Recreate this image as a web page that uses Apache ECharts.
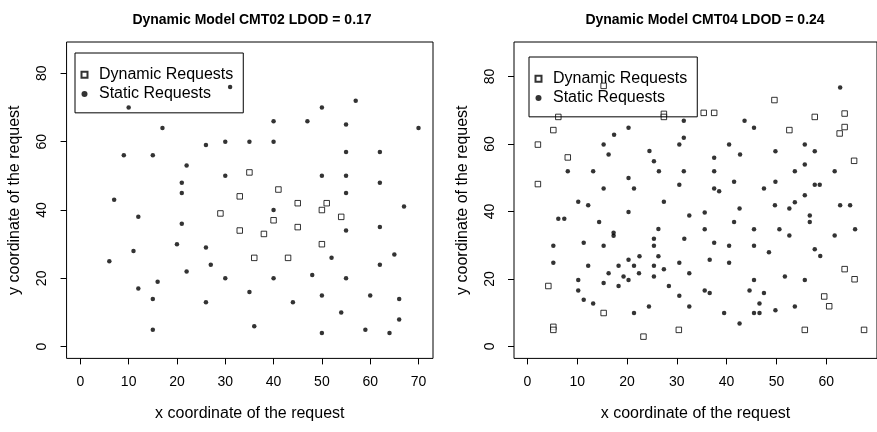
<!DOCTYPE html>
<title>dynamic requests</title>
<style>
body {
    margin: 0;
}
#echart {
    height: 432px;
    width: 877px;
}
</style>
<div id='echart'></div>
<script src='https://cdn.jsdelivr.net/npm/echarts@6.0.0/dist/echarts.min.js'></script>
<script>
let TITLES = ['Dynamic Model CMT02 LDOD = 0.17', 'Dynamic Model CMT04 LDOD = 0.24']
let NAMES = ['Dynamic Requests', 'Static Requests']
let x_ticks_left = [0, 10, 20, 30, 40, 50, 60, 70]
let x_ticks_right = [0, 10, 20, 30, 40, 50, 60]
let y_ticks = [0, 20, 40, 60, 80]

// CMT02
let dynamic_left = [
    [35, 51], [33, 44], [29, 39], [33, 34], [38, 33], [36, 26], [41, 46], [45, 42],
    [51, 42], [50, 40], [54, 38], [40, 37], [45, 35], [50, 30], [43, 26],
]
let static_left = [
    [31, 76], [10, 70], [17, 64], [26, 59], [30, 60], [35, 60], [9, 56], [15, 56],
    [22, 53], [30, 50], [21, 48], [21, 45], [57, 72], [50, 70], [40, 66], [47, 66],
    [55, 65], [70, 64], [40, 60], [55, 57], [62, 57], [50, 50], [55, 50], [62, 48],
    [55, 45], [7, 43], [12, 38], [21, 36], [20, 30], [26, 29], [11, 28], [6, 25],
    [27, 24], [22, 22], [30, 20], [16, 19], [12, 17], [35, 16], [15, 14], [26, 13],
    [15, 5], [36, 6], [40, 40], [67, 41], [55, 34], [62, 35], [52, 26], [65, 27],
    [62, 24], [48, 21], [40, 20], [55, 20], [50, 15], [60, 15], [44, 13], [66, 14],
    [54, 10], [66, 8], [50, 4], [59, 5], [64, 4],
]

// CMT04
let dynamic_right = [
    [15.3, 77.2], [6.2, 68], [27.4, 68.9], [27.4, 68], [5.2, 64.1], [2.1, 59.8], [8.1, 56],
    [2.1, 48.1], [35.4, 69.2], [37.5, 69.2], [49.6, 73], [52.6, 64.1], [57.7, 68], [63.7, 69],
    [63.7, 65], [62.7, 63.1], [65.6, 55], [4.2, 17.9], [15.3, 9.9], [5.2, 5.8], [5.2, 4.9],
    [23.3, 2.9], [30.4, 4.9], [63.7, 22.9], [65.7, 19.9], [59.6, 14.8], [60.6, 11.9],
    [55.7, 4.9], [67.6, 4.9],
]
let static_right = [
    [20.3, 64.8], [17.4, 62.7], [15.3, 59.8], [16.3, 56.9], [24.5, 57.9], [25.4, 54.9],
    [8.1, 51.9], [13.2, 51.9], [26.4, 51.9], [20.3, 49.9], [15.3, 46.8], [21.4, 46.8],
    [30.5, 59.8], [31.4, 61.8], [31.4, 66.9], [31.4, 51.9], [30.5, 47.9],
    [43.6, 66.9], [45.5, 64.8], [62.8, 76.7], [40.5, 59.8], [37.5, 55.9], [42.7, 56.9],
    [49.8, 57.8], [55.7, 59.8], [57.7, 57.8], [55.7, 53.9], [37.5, 51.9], [53.7, 51.9],
    [61.7, 51.9], [37.5, 46.8], [38.5, 46], [41.5, 48.8], [47.5, 46.8], [49.8, 48.8],
    [57.7, 47.9], [58.7, 47.9], [55.7, 44.8],
    [10.2, 42.9], [12.2, 41.8], [20.3, 39.8], [27.4, 42.9], [6.2, 37.8], [7.4, 37.8],
    [14.4, 36.9], [17.3, 33.7], [17.3, 32.8], [26.3, 34.8], [25.4, 31.9], [31.5, 31.9],
    [5.2, 29.8], [11.3, 30.7], [15.3, 29.8], [25.4, 29.8], [20.3, 25.7], [22.5, 26.7],
    [26.3, 26.7], [5.2, 24.8], [12.2, 23.9], [18.3, 23.9], [21.4, 23.9], [25.4, 23.9],
    [30.5, 24.8], [27.4, 22.9], [16.3, 21.7], [22.4, 21.7], [19.3, 20.7], [25.4, 20.7],
    [20.3, 19.7], [10.2, 19.7], [15.3, 18.8], [18.3, 17.9], [28.4, 17.9], [10.2, 16.6],
    [30.5, 15], [11.3, 13.8], [13.2, 12.7], [24.4, 11.8], [21.4, 9.9],
    [62.8, 41.8], [64.8, 41.8], [49.7, 41.8], [52.6, 40.9], [53.7, 42.7], [42.6, 40.9],
    [32.5, 38.8], [35.6, 39.7], [41.5, 36.9], [56.7, 38.8], [56.7, 36.9], [35.6, 34.7],
    [45.5, 34.7], [50.6, 34.7], [52.6, 32.9], [61.7, 32.9], [65.8, 34.7], [37.5, 30.7],
    [40.5, 29.8], [45.5, 29.8], [48.5, 27.9], [57.7, 28.8], [58.8, 26.8], [36.6, 25.7],
    [40.5, 24.8], [32.5, 21.7], [45.5, 19.7], [51.7, 20.7], [55.7, 19.7], [35.6, 16.6],
    [36.6, 15.8], [44.6, 16.6], [47.5, 15.8], [32.5, 11.8], [46.6, 12.7], [39.5, 9.9],
    [45.5, 9.9], [46.6, 9.9], [49.8, 10.7], [53.7, 11.8], [42.6, 6.8],
]

let echart = echarts.init(document.querySelector('#echart'))
let FONT = 'Liberation Sans'

function x_axis(gridIndex, min, max, ticks) {
    return {
        gridIndex, type: 'value', min, max,
        name: 'x coordinate of the request', nameLocation: 'middle', nameGap: 39,
        nameTextStyle: {fontSize: 16, color: '#000'},
        axisLine: {show: false, onZero: false},
        splitLine: {show: false},
        axisTick: {customValues: ticks, length: 6, lineStyle: {color: '#000'}},
        axisLabel: {customValues: ticks, margin: 12, fontSize: 14, color: '#000'},
    }
}
function y_axis(gridIndex, min, max) {
    return {
        gridIndex, type: 'value', min, max,
        name: 'y coordinate of the request', nameLocation: 'middle', nameGap: 38,
        nameTextStyle: {fontSize: 16, color: '#000'},
        axisLine: {show: false, onZero: false},
        splitLine: {show: false},
        axisTick: {customValues: y_ticks, length: 6, lineStyle: {color: '#000'}},
        axisLabel: {customValues: y_ticks, rotate: 90, margin: 12, fontSize: 14, color: '#000'},
    }
}
let square = {symbol: 'rect', symbolSize: 5.5, itemStyle: {color: '#fff', borderColor: '#000', borderWidth: 1}}
let dot = {symbol: 'circle', symbolSize: 4.5, itemStyle: {color: '#000'}}
// legend rows came out 27.6px apart, pull them together with a negative gap
let legend_defaults = {
    data: [{name: NAMES[0], icon: 'path://M0,0L10,0L10,10L0,10Z'}, {name: NAMES[1], icon: 'circle'}],
    orient: 'vertical', selectedMode: false,
    itemWidth: 19, itemHeight: 6, itemGap: -8.3,
    borderColor: '#000', borderWidth: 1, padding: [8, 10, 5, 5.5],
    textStyle: {fontSize: 16, lineHeight: 15, color: '#000'},
}

let option = {
    animation: false,
    textStyle: {fontFamily: FONT},
    title: [
        {text: TITLES[0], left: 247, top: 3, textAlign: 'center', textStyle: {fontSize: 14, fontWeight: 'bold', color: '#000'}},
        {text: TITLES[1], left: 700, top: 3, textAlign: 'center', textStyle: {fontSize: 14, fontWeight: 'bold', color: '#000'}},
    ],
    grid: [
        {left: 61, top: 42, width: 372, height: 333, show: true, borderColor: '#000', borderWidth: 1},
        {left: 514, top: 42, width: 372, height: 333, show: true, borderColor: '#000', borderWidth: 1},
    ],
    xAxis: [x_axis(0, -2.85, 73.0, x_ticks_left), x_axis(1, -2.7, 70.2, x_ticks_right)],
    yAxis: [y_axis(0, -3.42, 89.17), y_axis(1, -3.55, 90.2)],
    legend: [
        {...legend_defaults, left: 75, top: 53},
        {...legend_defaults, left: 529, top: 57},
    ],
    series: [
        {...square, type: 'scatter', name: NAMES[0], xAxisIndex: 0, yAxisIndex: 0, data: dynamic_left},
        {...dot, type: 'scatter', name: NAMES[1], xAxisIndex: 0, yAxisIndex: 0, data: static_left},
        {...square, type: 'scatter', name: NAMES[0], xAxisIndex: 1, yAxisIndex: 1, data: dynamic_right},
        {...dot, type: 'scatter', name: NAMES[1], xAxisIndex: 1, yAxisIndex: 1, data: static_right},
    ],
}
echart.setOption(option)
</script>
